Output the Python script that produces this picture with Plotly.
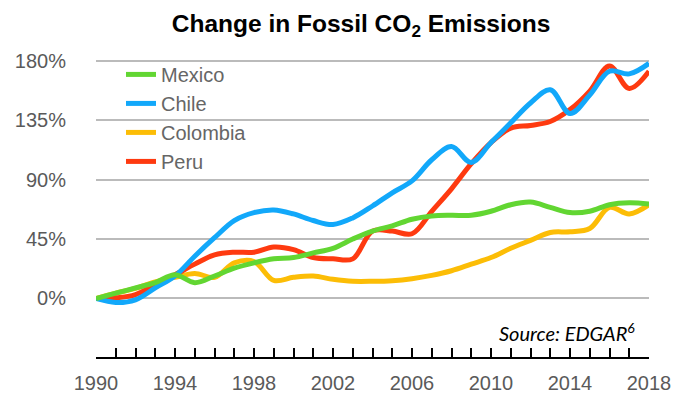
import plotly.graph_objects as go

years = list(range(1990, 2019))
mexico = [0, 4, 8, 12, 18, 12, 17, 23, 27, 30, 31, 34.5, 38, 45, 51, 55, 60, 62.5, 63, 63, 66, 71, 73, 69, 65, 66, 71, 72.5, 71.5]
chile = [0, -3, -1, 8, 17, 32, 46, 59, 65, 67, 64, 59, 56, 61, 70, 80, 89, 105, 115, 103, 118, 133, 148, 158, 140, 154, 172, 170, 178]
colombia = [0, 4, 7.6, 12.6, 16, 19, 16, 27, 28, 13.7, 16, 17, 14.5, 13, 13, 13.5, 15, 17.5, 21, 26, 31, 38, 44, 50, 50.5, 53, 69, 64, 71]
peru = [0, 0.5, 3, 10.5, 18, 26, 33, 35, 35, 39, 37, 31, 30, 30, 51, 51, 49, 66, 83, 102, 118, 129, 131, 134, 143, 157, 176, 159, 172]

y_ticks = [0, 45, 90, 135, 180]
y_labels = ["0%", "45%", "90%", "135%", "180%"]
x_ticks = [1990, 1994, 1998, 2002, 2006, 2010, 2014, 2018]

series = [
    ("Colombia", colombia, "#FCBD06", 3),
    ("Peru", peru, "#FE3A10", 4),
    ("Chile", chile, "#12A8FA", 2),
    ("Mexico", mexico, "#62D632", 1),
]

fig = go.Figure()
for name, vals, color, rank in series:
    fig.add_trace(go.Scatter(
        x=years, y=vals, name=name, mode="lines",
        line=dict(color=color, width=5, shape="spline", smoothing=1),
        legendrank=rank,
    ))

font_main = "Liberation Sans, Arial, sans-serif"

fig.update_layout(
    width=689, height=394,
    margin=dict(l=96, r=40, t=50, b=37, autoexpand=False),
    paper_bgcolor="white", plot_bgcolor="white",
    title=dict(text="Change in Fossil CO<sub>2</sub> Emissions", x=0.524, xanchor="center",
               y=0.94, yanchor="middle",
               font=dict(family=font_main, size=24.5, color="black", weight="bold")),
    showlegend=True,
    legend=dict(x=0.0452, y=0.984, xanchor="left", yanchor="top",
                bgcolor="rgba(0,0,0,0)", font=dict(family=font_main, size=20, color="#666666"),
                traceorder="normal"),
    xaxis=dict(range=[1990, 2018], tickvals=x_ticks, showgrid=False, zeroline=False,
               automargin=False,
               showline=True, linecolor="black", linewidth=2,
               ticks="inside", ticklen=9, tickwidth=2, tickcolor="black",
               minor=dict(dtick=1, tick0=1990, ticks="inside", ticklen=9, tickwidth=2, tickcolor="black", showgrid=False),
               ticklabelstandoff=7,
               tickfont=dict(family=font_main, size=20, color="#5a5a5a")),
    yaxis=dict(range=[-44.3, 188.1], tickvals=y_ticks, ticktext=y_labels,
               automargin=False,
               showgrid=True, gridcolor="#BBBBBB", gridwidth=2, zeroline=False,
               showline=False, ticks="outside", ticklen=25, tickcolor="rgba(0,0,0,0)",
               tickfont=dict(family=font_main, size=20, color="#5a5a5a")),
    annotations=[dict(text="<i>Source: EDGAR<sup>6</sup></i>", xref="paper", yref="paper",
                      x=(637 - 96) / 553, y=(357 - 332) / 307, xanchor="right", yanchor="middle",
                      showarrow=False, font=dict(family="Lato, sans-serif", size=20, color="black"))],
)

fig.write_html("out.html")
